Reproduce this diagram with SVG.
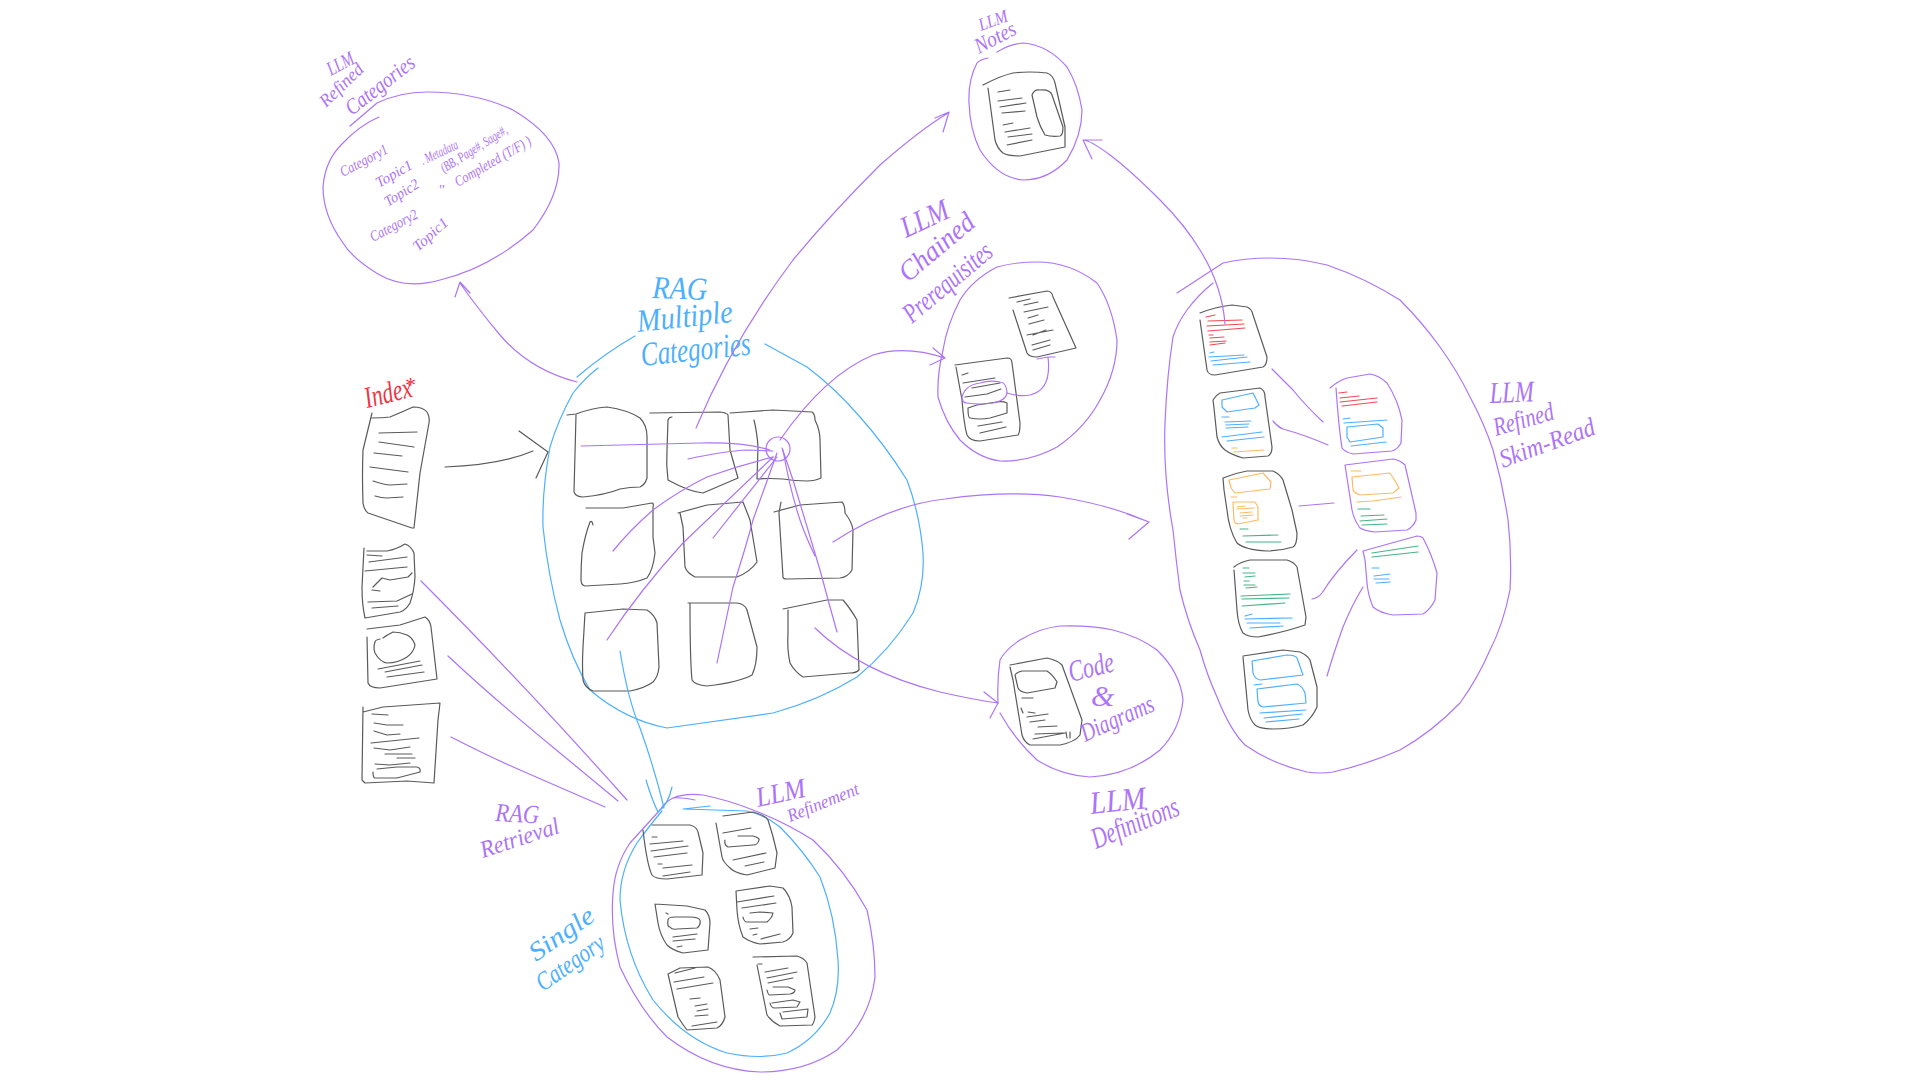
<svg xmlns="http://www.w3.org/2000/svg" width="1920" height="1080" viewBox="0 0 1920 1080">
<style>
path{fill:none;stroke-width:1.2;stroke-linecap:round;stroke-linejoin:round}
.k{stroke:#5a5a5a}.p{stroke:#ac74f8}.b{stroke:#4dafff}.r{stroke:#ee4a55}.o{stroke:#fbbb66}.g{stroke:#45b585}
text{font-family:"Liberation Serif",serif;font-style:italic;stroke:none}
.tp{fill:#ac74f8}.tb{fill:#4dafff}.tr{fill:#ee3344}
</style>
<rect width="1920" height="1080" fill="#ffffff"/>

<g id="llm-refined-categories">
<path class="p" d="M350,126 L377,103 Q400,92 427,92 Q475,92 513,110 Q555,135 559,163 Q560,195 533,230 Q490,268 440,280 Q405,290 378,274 Q352,258 343,243 Q323,215 323,187 Q325,160 343,143 Q360,125 379,117"/>
<text class="tp" font-size="20" transform="translate(331,76) rotate(-28)" textLength="28" lengthAdjust="spacingAndGlyphs">LLM</text>
<text class="tp" font-size="18" transform="translate(326,108) rotate(-44)" textLength="54" lengthAdjust="spacingAndGlyphs">Refined</text>
<text class="tp" font-size="22" transform="translate(352,116) rotate(-38)" textLength="82" lengthAdjust="spacingAndGlyphs">Categories</text>
<text class="tp" font-size="15" transform="translate(343,177) rotate(-28)" textLength="52" lengthAdjust="spacingAndGlyphs">Category1</text>
<text class="tp" font-size="15" transform="translate(379,188) rotate(-30)" textLength="40" lengthAdjust="spacingAndGlyphs">Topic1</text>
<text class="tp" font-size="14" transform="translate(423,165) rotate(-25)" textLength="40" lengthAdjust="spacingAndGlyphs">. Metadata</text>
<text class="tp" font-size="14" transform="translate(444,173) rotate(-32)" textLength="76" lengthAdjust="spacingAndGlyphs">(BB, Page#, Sage#,</text>
<text class="tp" font-size="15" transform="translate(458,187) rotate(-30)" textLength="86" lengthAdjust="spacingAndGlyphs">Completed (T/F) )</text>
<text class="tp" font-size="15" transform="translate(388,207) rotate(-32)" textLength="38" lengthAdjust="spacingAndGlyphs">Topic2</text>
<text class="tp" font-size="15" transform="translate(438,195)">"</text>
<text class="tp" font-size="15" transform="translate(373,242) rotate(-28)" textLength="52" lengthAdjust="spacingAndGlyphs">Category2</text>
<text class="tp" font-size="15" transform="translate(418,252) rotate(-42)" textLength="42" lengthAdjust="spacingAndGlyphs">Topic1</text>
</g>

<g id="llm-notes">
<path class="p" d="M988,58 Q979,60 977,63 Q968,80 969,103 Q970,130 980,150 Q998,178 1023,180 Q1048,180 1067,160 Q1082,135 1082,110 Q1078,85 1067,67 Q1048,45 1023,43 Q1010,44 997,52"/>
<path class="k" d="M983,85 Q1000,76 1013,73 Q1030,71 1047,73 Q1053,75 1055,83 L1065,127 L1065,147 L1020,156 Q1008,156 1003,153 Q997,148 995,140 L988,88"/>
<path class="k" d="M1032,95 Q1034,89 1040,90 Q1050,89 1052,95 L1063,127 Q1063,135 1060,136 Q1052,137 1045,135 Q1040,127 1037,117 Z"/>
<path class="k" d="M998,92L1010,90M998,101L1022,98M1000,107L1026,103M1002,113L1025,111M1003,125L1013,123M1005,132L1030,128M1008,137L1032,134M1007,145L1032,140"/>
<text class="tp" font-size="18" transform="translate(981,31) rotate(-20)" textLength="30" lengthAdjust="spacingAndGlyphs">LLM</text>
<text class="tp" font-size="22" transform="translate(979,54) rotate(-28)" textLength="44" lengthAdjust="spacingAndGlyphs">Notes</text>
</g>

<g id="llm-chained-prerequisites">
<path class="p" d="M1037,262 Q1015,262 997,267 Q972,280 960,300 Q947,325 943,350 Q937,375 938,397 Q945,422 960,440 Q978,458 1000,461 Q1030,462 1057,447 Q1085,428 1100,400 Q1117,370 1117,340 Q1112,305 1097,283 Q1070,262 1037,262"/>
<path class="k" d="M955,365 L1007,358 Q1012,358 1012,363 L1020,423 Q1020,433 1018,435 L980,441 Q970,441 967,435 Q964,425 962,400 L956,367"/>
<path class="k" d="M962,375L968,373M963,383L995,378M972,388L1000,383M965,397L987,394L1001,389M978,426L1002,422M980,433L1006,427"/>
<path class="k" d="M968,408 Q968,418 970,418 Q980,420 990,418 L1007,413 L1007,403 Q1003,401 997,402 L977,405 Z"/>
<path class="p" d="M962,397 Q962,403 967,403 Q980,405 993,403 Q1007,400 1007,392 Q1006,382 1000,382 Q990,380 980,383 Q965,385 962,397"/>
<path class="p" d="M1007,393 Q1020,397 1030,395 Q1052,390 1048,357M1037,359L1048,357L1055,357"/>
<path class="k" d="M1009,298 L1047,291 Q1052,291 1053,297 L1076,348 L1037,357 Q1029,357 1027,353 L1013,310"/>
<path class="k" d="M1017,302L1030,299M1024,305L1038,302M1024,312L1048,307M1028,318L1038,315M1029,324L1044,320M1027,335L1053,330M1033,335L1046,330M1032,345L1050,340M1033,350L1050,345"/>
<text class="tp" font-size="30" transform="translate(906,238) rotate(-25)" textLength="50" lengthAdjust="spacingAndGlyphs">LLM</text>
<text class="tp" font-size="28" transform="translate(908,283) rotate(-40)" textLength="90" lengthAdjust="spacingAndGlyphs">Chained</text>
<text class="tp" font-size="28" transform="translate(912,324) rotate(-40)" textLength="108" lengthAdjust="spacingAndGlyphs">Prerequisites</text>
</g>

<g id="rag-multiple-categories">
<path class="b" d="M598,368 Q585,378 573,393 Q558,420 550,447 Q542,490 543,527 Q548,575 560,620 Q572,660 590,690 Q625,720 667,728 L773,713 Q820,700 857,677 Q890,650 913,613 Q925,585 923,553 Q920,515 907,480 Q885,445 860,417 Q835,388 807,367 Q785,355 765,344"/>
<path class="b" d="M577,377 Q605,353 635,336" stroke-width="1.6"/>
<text class="tb" font-size="32" transform="translate(652,298) rotate(2)" textLength="55" lengthAdjust="spacingAndGlyphs">RAG</text>
<text class="tb" font-size="32" transform="translate(638,332) rotate(-6)" textLength="96" lengthAdjust="spacingAndGlyphs">Multiple</text>
<text class="tb" font-size="34" transform="translate(642,366) rotate(-6)" textLength="110" lengthAdjust="spacingAndGlyphs">Categories</text>
<path class="k" d="M567,415 L576,414 Q592,408 607,407 Q628,410 640,418 Q647,425 647,437 L647,478 Q645,485 640,487 Q630,487 620,489 Q605,495 583,497 Q576,497 574,492 L576,415"/>
<path class="k" d="M650,413 L720,412 Q727,413 728,415 L730,450 L738,478 L703,493 Q690,492 668,480 Q666,465 667,450 L668,420 Q669,417 672,417"/>
<path class="k" d="M730,413 L773,410 L812,412 Q815,414 815,420 Q820,430 820,440 L821,478 Q815,481 807,481 Q795,481 783,479 Q770,478 757,479 L758,447 Q757,432 754,420"/>
<path class="k" d="M586,508 L623,508 L652,503 Q654,503 653,507 L653,537 L655,553 Q653,570 647,578 Q635,583 620,584 L585,586 Q581,585 581,580 Q581,565 582,553 Q585,535 590,522 Q592,520 593,525"/>
<path class="k" d="M678,513 L707,505 L743,502 L750,520 L757,562 Q750,572 737,577 L695,577 Q687,573 685,567 L683,527 L680,513"/>
<path class="k" d="M774,512 L800,505 L842,502 Q845,505 845,513 Q852,522 853,530 L852,570 Q848,577 840,578 L787,579 Q783,579 783,577 L779,513 L781,502"/>
<path class="k" d="M585,613 L623,609 L647,610 Q655,615 657,623 L659,667 Q658,677 653,682 Q645,688 630,691 L593,691 Q585,688 583,680 Q582,665 583,647 L585,613"/>
<path class="k" d="M688,603 L737,603 Q745,604 747,610 L757,647 Q757,665 752,675 Q740,682 707,686 Q695,685 692,680 Q690,660 690,603"/>
<path class="k" d="M783,609 L827,600 L843,600 Q850,608 857,620 L859,670 Q856,673 850,673 L803,677 Q795,672 790,663 Q787,650 788,633 L788,610"/>
</g>

<g id="index-docs">
<path class="k" d="M372,418 Q382,418 390,417 Q402,412 413,407 Q423,407 427,412 Q430,417 429,423 L420,473 L414,528 L412,528 L368,513 Q364,510 363,503 Q362,475 363,450 L372,413"/>
<path class="k" d="M379,433L417,432M379,442L414,447M374,453L402,456M370,467L408,472M373,481Q385,485 390,485L407,484M375,496Q382,498 387,498L403,497"/>
<text class="tr" font-size="30" transform="translate(367,408) rotate(-14)" textLength="48" lengthAdjust="spacingAndGlyphs">Index</text>
<text class="tr" font-size="22" transform="translate(404,392)">*</text>
</g>

<g id="rag-retrieval">
<path class="k" d="M367,551 L387,551 Q397,549 405,544 Q411,546 414,553 L415,577 Q414,592 410,603 Q406,610 400,612 L365,618 Q362,605 362,587 L364,548"/>
<path class="k" d="M367,555L382,556M369,562L407,557M365,571L407,567M373,587L382,578L390,580L408,577L412,573M372,590L380,591M368,602L397,601L412,594M372,608L398,606"/>
<path class="k" d="M367,629 L400,625 L425,617 Q430,620 431,627 L437,679 L380,688 Q370,688 368,683 L367,637"/>
<path class="k" d="M380,639 Q375,640 375,642 Q373,648 375,653 Q380,662 387,663 Q398,663 407,657 Q414,652 415,645 Q413,638 407,635 Q400,632 393,632 Q387,635 383,638"/>
<path class="k" d="M378,669L420,661M385,672L422,665M387,677L424,672"/>
<path class="k" d="M363,712 L383,707 L440,703 L438,720 L434,783 L407,781 L365,783 L362,780 L363,707"/>
<path class="k" d="M372,714L388,715M374,723L387,725L403,725M374,731L387,735L400,734M371,743L419,738M374,748L390,750L410,747M385,754L412,754M397,758L415,758M375,764L390,765L410,763"/>
<path class="k" d="M373,772 Q373,778 375,778 L397,778 L420,772 Q421,768 417,767 L397,767 L377,769"/>
<text class="tp" font-size="26" transform="translate(495,821) rotate(3)" textLength="44" lengthAdjust="spacingAndGlyphs">RAG</text>
<text class="tp" font-size="24" transform="translate(483,858) rotate(-18)" textLength="82" lengthAdjust="spacingAndGlyphs">Retrieval</text>
</g>

<g id="llm-refinement">
<path class="p" d="M695,800 Q680,797 673,798 Q665,802 660,810 L630,843 Q615,865 613,893 Q610,930 620,967 Q640,1010 667,1037 Q710,1070 760,1072 Q805,1072 837,1050 Q870,1020 875,977 Q875,945 867,910 Q845,870 813,840 Q785,822 753,810 Q728,800 703,795 Q685,793 673,798"/>
<path class="b" d="M662,811 Q650,825 637,843 Q620,870 620,900 Q625,955 653,1000 Q685,1040 727,1053 Q760,1060 787,1053 Q815,1040 830,1013 Q840,990 838,960 Q835,915 820,877 Q803,850 780,827 Q765,815 747,811 L683,809 L710,806"/>
<path class="k" d="M652,825 L690,825 Q697,827 698,832 L703,853 L702,875 L667,879 Q655,879 652,875 Q647,865 643,830"/>
<path class="k" d="M652,837L657,837M650,844L683,841M651,851L688,846M654,857L687,853M658,864L662,864M663,868L692,865M663,876L690,872"/>
<path class="k" d="M723,816 L753,812 Q765,815 768,820 Q773,835 777,853 L775,868 L747,875 Q735,873 730,868 Q723,862 722,857 L716,823"/>
<path class="k" d="M723,833L751,828M738,836L753,836Q760,838 759,840Q758,845 753,845L728,847Q724,845 725,840M733,860L766,853M745,866L764,862"/>
<path class="k" d="M655,904 L687,906 L705,910 Q710,915 710,923 L708,950 L683,953 Q672,950 667,945 Q660,935 658,923 L655,904"/>
<path class="k" d="M675,917 Q668,917 668,920 Q667,927 670,927 Q672,930 677,929 L697,928 Q701,925 700,920 Q698,917 690,917 L675,917M666,913L668,914M673,937L697,934M673,941L695,939M677,947L682,946"/>
<path class="k" d="M736,891 L770,886 L783,888 Q790,895 792,907 L793,933 Q790,940 783,942 L760,944 Q750,942 743,937 Q738,925 737,910 L736,891"/>
<path class="k" d="M737,902L774,896M742,908L776,903M743,917Q744,922 747,922L767,922Q772,918 773,913L760,912L750,913M750,929L758,928M753,935L757,934M761,939L780,934"/>
<path class="k" d="M668,974 L680,968 L708,967 Q716,970 720,980 L725,1017 Q723,1025 717,1028 L687,1030 Q683,1025 678,1017 L668,974"/>
<path class="k" d="M675,973L695,968M674,982L704,977M677,989L713,983M690,999L700,998M695,1006L707,1004M697,1011L708,1009M695,1016L708,1015M692,1026L717,1022"/>
<path class="k" d="M753,957 L797,956 Q804,958 807,963 L815,1017 Q814,1023 812,1025 L780,1026 Q772,1022 767,1015 L757,965"/>
<path class="k" d="M765,972L788,968M767,978L797,972M768,983L793,978M767,990Q768,995 770,995L790,994Q795,993 795,990L788,987L773,987M770,1003Q771,1008 775,1008L797,1007L800,1002L793,1000L772,1003M780,1013L782,1019L807,1017L808,1009L783,1012M758,964L762,964"/>
<text class="tp" font-size="28" transform="translate(758,807) rotate(-12)" textLength="50" lengthAdjust="spacingAndGlyphs">LLM</text>
<text class="tp" font-size="18" transform="translate(790,822) rotate(-22)" textLength="76" lengthAdjust="spacingAndGlyphs">Refinement</text>
<text class="tb" font-size="26" transform="translate(536,962) rotate(-35)" textLength="74" lengthAdjust="spacingAndGlyphs">Single</text>
<text class="tb" font-size="26" transform="translate(543,992) rotate(-35)" textLength="78" lengthAdjust="spacingAndGlyphs">Category</text>
</g>

<g id="llm-definitions">
<path class="p" d="M998,703 Q997,680 1000,660 Q1005,650 1020,640 Q1040,628 1060,626 Q1090,625 1113,630 Q1140,637 1157,650 Q1180,672 1183,700 Q1180,730 1160,750 Q1130,775 1090,777 Q1060,775 1037,760 Q1015,740 1000,713"/>
<path class="k" d="M1010,665 L1047,658 Q1057,660 1062,665 L1082,720 L1080,735 Q1075,742 1060,745 L1030,745 Q1024,742 1022,735 L1013,680 L1010,667"/>
<path class="k" d="M1015,675 Q1017,672 1022,671 L1047,671 Q1053,675 1057,682 L1055,688 L1027,693 Q1020,692 1018,688 L1015,675"/>
<path class="k" d="M1022,698L1033,698M1021,708L1023,713M1028,712L1035,713M1027,717L1048,714M1030,722L1045,720M1038,727L1057,726M1035,734L1063,733M1033,739L1065,733M1066,732L1067,738M1070,732L1070,738"/>
<text class="tp" font-size="30" transform="translate(1071,682) rotate(-14)" textLength="46" lengthAdjust="spacingAndGlyphs">Code</text>
<text class="tp" font-size="30" transform="translate(1091,706)">&amp;</text>
<text class="tp" font-size="26" transform="translate(1085,742) rotate(-24)" textLength="78" lengthAdjust="spacingAndGlyphs">Diagrams</text>
<text class="tp" font-size="32" transform="translate(1091,814) rotate(-6)" textLength="56" lengthAdjust="spacingAndGlyphs">LLM</text>
<text class="tp" font-size="30" transform="translate(1096,849) rotate(-22)" textLength="92" lengthAdjust="spacingAndGlyphs">Definitions</text>
</g>

<g id="llm-refined-skim-read">
<path class="p" d="M1177,293 L1223,263 Q1245,258 1270,258 Q1300,258 1327,265 Q1365,278 1400,300 Q1422,322 1440,347 Q1458,372 1470,397 Q1485,425 1493,450 Q1503,485 1508,520 Q1512,555 1510,590 Q1503,625 1490,650 Q1478,678 1460,703 Q1432,732 1400,750 Q1365,765 1333,772 Q1320,774 1307,772 Q1272,764 1245,745 Q1230,730 1217,697 Q1207,675 1200,650 Q1187,620 1180,590 Q1176,560 1173,530 Q1163,475 1165,423 Q1167,375 1173,337 Q1178,322 1187,310 Q1198,295 1213,283"/>
<text class="tp" font-size="30" transform="translate(1490,403) rotate(-2)" textLength="44" lengthAdjust="spacingAndGlyphs">LLM</text>
<text class="tp" font-size="26" transform="translate(1496,436) rotate(-16)" textLength="62" lengthAdjust="spacingAndGlyphs">Refined</text>
<text class="tp" font-size="26" transform="translate(1503,468) rotate(-20)" textLength="100" lengthAdjust="spacingAndGlyphs">Skim-Read</text>

<path class="k" d="M1200,313 Q1215,307 1232,305 L1247,307 Q1252,309 1253,315 L1267,357 Q1267,365 1263,367 L1215,375 Q1208,375 1207,370 L1200,320"/>
<path class="r" d="M1206,317L1215,315M1208,321L1242,320M1207,326L1244,324M1208,331L1245,328M1209,335L1213,335M1210,338L1224,337M1210,342L1226,341M1210,345L1225,343"/>
<path class="b" d="M1210,353L1214,352M1209,357L1244,355M1211,361L1247,357M1213,365L1250,362"/>

<path class="k" d="M1213,400 Q1216,395 1220,393 L1260,388 Q1265,390 1265,397 L1272,447 Q1272,454 1268,456 L1243,458 Q1232,455 1225,450 Q1219,445 1217,437 L1214,408 Z"/>
<path class="b" d="M1222,400 L1253,393 L1259,405 L1255,408 L1227,412 L1222,407 Z"/>
<path class="b" d="M1222,417L1229,417M1225,422L1251,421M1226,425L1249,424M1226,428L1248,427M1222,437L1262,432M1227,441L1264,437"/>
<path class="o" d="M1232,448L1237,448M1234,452L1264,450"/>

<path class="k" d="M1223,478 Q1235,473 1247,471 L1273,471 Q1280,474 1283,480 L1292,510 L1297,533 Q1297,545 1293,547 Q1280,551 1267,551 Q1245,550 1237,543 Q1229,530 1227,510 L1224,490 Z"/>
<path class="o" d="M1229,480 L1263,473 L1271,482 L1270,489 L1235,493 L1231,488 Z"/>
<path class="o" d="M1231,497L1237,497M1237,507L1245,506M1237,509L1254,508M1240,513L1252,512M1240,516L1253,515M1243,518L1247,518"/>
<path class="o" d="M1233,502 L1255,502 L1258,507 L1258,520 L1238,524 Q1234,523 1234,520 Z"/>
<path class="g" d="M1240,529L1248,529M1243,536L1278,535M1246,542L1281,542"/>

<path class="k" d="M1234,567 Q1240,562 1250,560 L1287,560 Q1294,562 1297,567 L1306,617 L1305,625 Q1285,632 1258,637 Q1248,637 1243,633 Q1238,625 1237,610 L1234,570"/>
<path class="g" d="M1243,568L1249,568M1243,573L1255,573M1245,577L1255,576M1244,581L1249,581M1244,585L1255,585M1246,588L1257,587M1241,596L1290,594M1242,599L1289,598M1242,606L1285,603"/>
<path class="b" d="M1245,616L1252,614M1245,619L1292,618M1247,623L1280,623M1250,628L1283,626"/>

<path class="k" d="M1243,656 L1283,650 L1300,652 Q1307,655 1310,660 L1317,687 L1317,707 Q1312,718 1303,725 Q1290,729 1273,729 Q1260,729 1255,725 Q1250,720 1248,710 L1243,657"/>
<path class="b" d="M1252,661 L1287,655 Q1295,655 1297,658 L1303,675 L1260,680 Q1254,678 1253,673 Z"/>
<path class="b" d="M1254,685L1262,684M1260,713L1306,710M1264,718L1302,714M1266,722L1299,719"/>
<path class="b" d="M1257,689 L1297,684 Q1303,687 1305,693 L1306,703 L1263,707 Q1259,706 1258,702 Z"/>

<path class="p" d="M1330,388 Q1338,381 1347,378 L1370,374 Q1380,376 1387,383 Q1398,400 1402,420 L1401,443 Q1398,449 1392,451 L1353,454 Q1345,452 1342,448 Q1339,430 1336,388"/>
<path class="r" d="M1339,393L1347,392M1340,398L1359,396M1340,402L1377,398M1342,406L1377,402"/>
<path class="b" d="M1343,419L1350,418M1344,423L1387,420M1351,446L1386,442"/>
<path class="b" d="M1347,427 L1378,424 L1383,428 L1383,437 L1350,442 L1347,437 Z"/>

<path class="p" d="M1345,465 L1393,459 Q1400,460 1405,465 L1416,513 L1416,520 Q1413,527 1407,530 L1375,532 Q1365,531 1360,528 Q1354,520 1352,510 Z"/>
<path class="o" d="M1351,471L1361,471M1357,502L1373,501L1401,497"/>
<path class="o" d="M1352,477 L1390,473 Q1395,480 1399,488 L1393,493 L1360,495 Q1354,493 1353,490 Z"/>
<path class="g" d="M1358,509L1370,509M1361,516L1384,515M1360,521L1387,519M1362,525L1387,524"/>

<path class="p" d="M1363,551 L1417,536 Q1421,536 1423,538 Q1432,555 1437,573 L1435,600 Q1430,610 1423,614 L1393,615 Q1380,613 1373,607 Q1368,595 1367,583 L1365,560 Z"/>
<path class="g" d="M1372,553L1418,546M1372,557L1418,552"/>
<path class="b" d="M1372,568L1379,568M1374,576L1390,574M1374,579L1389,579M1376,583L1390,582"/>
</g>

<g id="connectors">
<path class="k" d="M445,467 Q500,465 533,451M519,431L548,452L536,478"/>
<path class="p" d="M577,382 Q530,370 500,335 Q475,305 460,283M455,297L460,282L470,293"/>
<path class="p" d="M696,428 Q733,340 793,260 Q830,215 880,165 Q920,130 948,113M935,118L949,112L943,132"/>
<path class="p" d="M780,440 Q825,375 873,355 Q905,345 945,358M933,348L945,358L930,365"/>
<path class="p" d="M833,542 Q890,505 945,499 Q1010,490 1060,497 Q1110,505 1149,522M1127,514L1149,522L1129,539"/>
<path class="p" d="M815,628 Q860,672 940,692 Q975,700 998,703M984,692L998,703L990,718"/>
<path class="b" d="M620,651 Q628,700 640,728 Q655,770 664,808M646,780Q652,800 658,812Q668,805 672,787"/>
<circle cx="778" cy="449" r="12" fill="none" stroke="#ac74f8" stroke-width="1.2"/>
<path class="p" d="M581,446 L700,443 Q745,442 770,450"/>
<path class="p" d="M688,459 Q725,451 747,450 L773,451"/>
<path class="p" d="M613,551 Q630,530 653,510 Q680,490 707,477 Q740,465 773,457"/>
<path class="p" d="M607,640 Q640,590 683,543 L773,457"/>
<path class="p" d="M713,538 L777,457"/>
<path class="p" d="M717,663 L733,587 Q745,550 753,520 L777,453"/>
<path class="p" d="M815,556 Q805,535 800,520 Q790,490 783,450"/>
<path class="p" d="M837,632 Q828,600 820,570 L793,480 Q788,465 782,448"/>
<path class="p" d="M421,581 Q520,680 627,800"/>
<path class="p" d="M448,656 Q495,700 560,753 L618,801"/>
<path class="p" d="M451,737 Q490,757 520,770 L605,807"/>
<path class="p" d="M1225,324 Q1222,285 1200,250 Q1185,225 1160,200 Q1130,170 1110,155 Q1090,140 1083,140M1092,159L1083,140L1102,140"/>
<path class="p" d="M1272,369 L1293,390 Q1305,405 1323,422"/>
<path class="p" d="M1273,421 Q1278,427 1283,429 Q1305,435 1328,445"/>
<path class="p" d="M1299,506 L1334,503"/>
<path class="p" d="M1312,599 Q1318,598 1322,593 Q1335,572 1357,550"/>
<path class="p" d="M1327,676 Q1333,655 1343,627 Q1352,605 1363,587"/>
</g>
</svg>
